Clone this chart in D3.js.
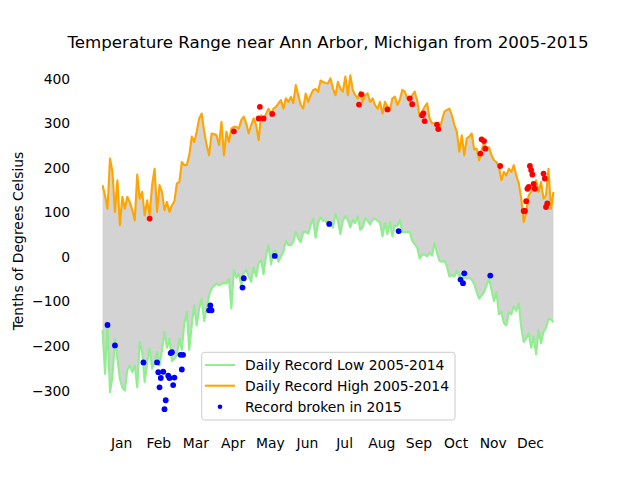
<!DOCTYPE html>
<html>
<head>
<meta charset="utf-8">
<script src="https://cdn.jsdelivr.net/npm/d3@7"></script>
<style>
  html, body { margin: 0; padding: 0; background: #fff; }
  svg { display: block; font-family: "DejaVu Sans", sans-serif; }
</style>
</head>
<body>
<svg id="chart" width="640" height="480"></svg>
<script>
// ---- data (tenths of degrees Celsius), record values every 2nd day of the year ----
const STEP_DAYS = 2;
const recordHigh = [
  160,137,107,220,190,100,171,70,134,107,
  134,122,104,81,184,130,145,92,126,92,
  160,197,100,160,145,104,122,100,115,124,
  164,167,212,205,205,227,269,257,280,310,
  321,282,250,227,276,275,272,250,302,227,
  280,257,287,291,291,287,306,314,299,276,
  295,310,295,261,317,306,320,332,320,332,
  336,344,351,332,355,347,358,344,385,362,
  340,332,366,347,362,374,376,370,395,392,
  389,389,400,377,362,392,377,370,404,362,
  407,374,362,355,370,347,362,366,347,355,
  340,332,347,321,347,336,329,355,359,340,
  352,374,370,355,347,362,370,350,314,325,
  336,344,310,299,299,291,284,306,325,329,
  332,317,295,280,235,272,227,265,269,276,
  240,242,216,239,255,239,245,227,216,212,
  200,171,190,182,197,190,205,182,164,130,
  77,100,137,145,160,171,145,167,130,137,
  197,107,145
];
const recordLow = [
  -165,-264,-155,-305,-270,-185,-230,-275,-295,-301,
  -255,-245,-260,-245,-294,-192,-215,-282,-240,-207,
  -252,-240,-215,-245,-210,-170,-205,-185,-235,-230,
  -222,-185,-210,-150,-125,-210,-155,-110,-155,-118,
  -95,-145,-118,-88,-72,-67,-61,-65,-62,-60,
  -61,-50,-117,-30,-48,-40,-65,-38,-30,-45,
  -57,-25,-45,-15,-8,-40,2,25,-18,12,
  12,-12,0,10,35,25,25,33,55,40,
  32,55,55,51,70,85,42,75,88,80,
  80,72,75,65,95,80,50,80,90,82,
  65,82,75,90,60,65,85,80,72,82,
  85,80,75,45,75,50,77,45,70,68,
  82,55,55,55,55,35,27,20,-5,4,
  4,0,8,2,30,8,-10,-12,-10,-22,
  -45,-42,-45,-33,-45,-40,-48,-50,-48,-52,
  -62,-80,-95,-88,-80,-65,-50,-75,-100,-80,
  -130,-125,-150,-155,-125,-130,-112,-122,-105,-160,
  -192,-185,-172,-205,-180,-220,-165,-195,-170,-160,
  -140,-142,-148
];
// 2015 values that broke the record low
const brokenLowDays = [4,10,33,44,45,46,47,49,50,51,53,54,55,56,57,58,63,64,65,86,87,88,113,114,139,183,239,289,291,292,313];
const brokenLowVals = [-154,-200,-238,-238,-260,-294,-273,-259,-343,-323,-268,-273,-217,-215,-289,-272,-221,-254,-221,-121,-110,-121,-70,-49,1,73,57,-52,-60,-38,-43];
// 2015 values that broke the record high
const brokenHighDays = [38,106,126,127,130,137,207,209,230,248,250,258,259,260,270,271,305,306,308,309,321,340,341,342,343,344,345,346,347,348,349,356,357,358,359];
const brokenHighVals = [85,281,310,336,310,320,341,364,330,355,342,317,321,304,296,286,231,263,259,242,203,102,102,124,152,156,203,194,184,163,152,186,175,111,119];
// axis ticks
const monthTickDays = [15,45,75,105,135,165,195,225,255,285,315,345];
const monthLabels = ["Jan","Feb","Mar","Apr","May","Jun","Jul","Aug","Sep","Oct","Nov","Dec"];
const yTickValues = [-300,-200,-100,0,100,200,300,400];
const legendLabels = ["Daily Record Low 2005-2014","Daily Record High 2005-2014","Record broken in 2015"];
const titleText = "Temperature Range near Ann Arbor, Michigan from 2005-2015";
const yLabelText = "Tenths of Degrees Celsius";

// ---- layout ----
const svg = d3.select("#chart");
const axL = 80, axR = 576, axT = 57.6, axB = 422.4;
const x = d3.scaleLinear().domain([0, 364]).range([102.55, 553.45]);
const y = d3.scaleLinear().domain([-300, 400]).range([390, 78.3]);

const days = recordHigh.map((_, i) => i * STEP_DAYS);
const band = days.map((d, i) => ({d, hi: recordHigh[i], lo: recordLow[i]}));

// fill between
svg.append("path")
  .datum(band)
  .attr("fill", "#d3d3d3")
  .attr("stroke", "none")
  .attr("d", d3.area().x(p => x(p.d)).y0(p => y(p.lo)).y1(p => y(p.hi)));

// lines
svg.append("path").datum(band)
  .attr("fill", "none").attr("stroke", "#90ee90").attr("stroke-width", 2.1)
  .attr("stroke-linejoin", "round")
  .attr("d", d3.line().x(p => x(p.d)).y(p => y(p.lo)));
svg.append("path").datum(band)
  .attr("fill", "none").attr("stroke", "#ffa500").attr("stroke-width", 2.1)
  .attr("stroke-linejoin", "round")
  .attr("d", d3.line().x(p => x(p.d)).y(p => y(p.hi)));

// scatter
svg.append("g").selectAll("circle")
  .data(brokenLowDays.map((d, i) => [d, brokenLowVals[i]]))
  .join("circle")
  .attr("cx", p => x(p[0])).attr("cy", p => y(p[1])).attr("r", 2.9)
  .attr("fill", "#0000ff");
svg.append("g").selectAll("circle")
  .data(brokenHighDays.map((d, i) => [d, brokenHighVals[i]]))
  .join("circle")
  .attr("cx", p => x(p[0])).attr("cy", p => y(p[1])).attr("r", 2.9)
  .attr("fill", "#ff0000");

// axes (no spines, no tick marks)
const yAxis = svg.append("g").attr("transform", `translate(${axL},0)`)
  .call(d3.axisLeft(y).tickValues(yTickValues).tickSize(0).tickPadding(9.8));
yAxis.select(".domain").remove();
yAxis.selectAll("text").attr("font-size", "13.9px").attr("font-family", "DejaVu Sans")
  .attr("fill", "#000").attr("dy", "0.36em");

const xAxis = svg.append("g").attr("transform", `translate(0,${axB})`)
  .call(d3.axisBottom(x).tickValues(monthTickDays).tickSize(0).tickPadding(0)
    .tickFormat((d, i) => monthLabels[i]));
xAxis.select(".domain").remove();
xAxis.selectAll("text").attr("font-size", "13.9px").attr("font-family", "DejaVu Sans")
  .attr("fill", "#000").attr("y", 25.9).attr("dy", 0);

// title and y label
svg.append("text").attr("x", 328).attr("y", 48.3).attr("text-anchor", "middle")
  .attr("font-size", "16.67px").attr("fill", "#000").text(titleText);
svg.append("text").attr("transform", "translate(23,241) rotate(-90)")
  .attr("text-anchor", "middle").attr("font-size", "13.9px").attr("fill", "#000")
  .text(yLabelText);

// legend
const lg = svg.append("g");
lg.append("rect").attr("x", 201.7).attr("y", 352.3).attr("width", 253.3).attr("height", 67.7)
  .attr("rx", 2.8).attr("fill", "#fff").attr("fill-opacity", 0.8)
  .attr("stroke", "#cccccc").attr("stroke-width", 1);
const rows = [365, 385.7, 406.7];
lg.append("line").attr("x1", 205).attr("x2", 235).attr("y1", rows[0]).attr("y2", rows[0])
  .attr("stroke", "#90ee90").attr("stroke-width", 2.1);
lg.append("line").attr("x1", 205).attr("x2", 235).attr("y1", rows[1]).attr("y2", rows[1])
  .attr("stroke", "#ffa500").attr("stroke-width", 2.1);
lg.append("circle").attr("cx", 220).attr("cy", rows[2]).attr("r", 2.3).attr("fill", "#0000ff");
legendLabels.forEach((t, i) => {
  lg.append("text").attr("x", 245).attr("y", rows[i] + 5).attr("font-size", "13.9px")
    .attr("fill", "#000").text(t);
});
</script>
</body>
</html>
